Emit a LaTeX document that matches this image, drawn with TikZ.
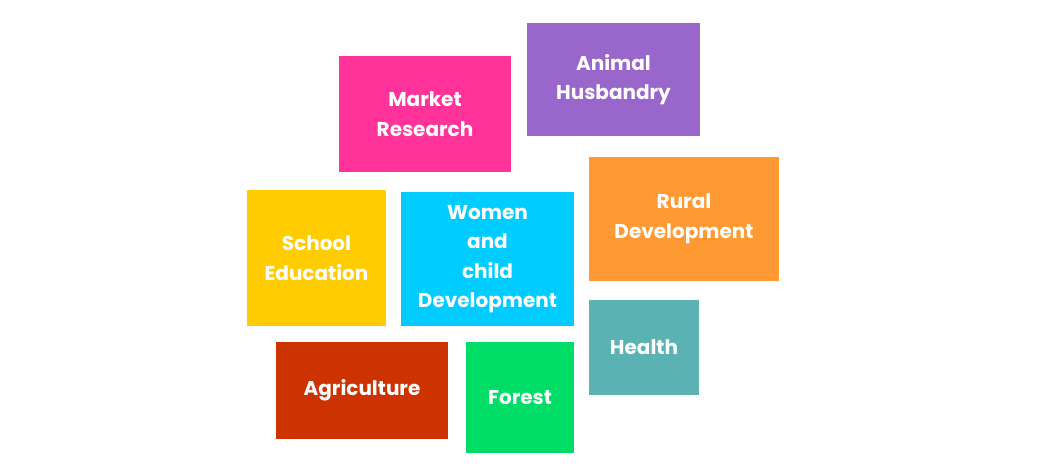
\documentclass[tikz,border=0pt]{standalone}
\usepackage{fontspec}
\setmainfont{Poppins}[BoldFont={Poppins Bold}]
\definecolor{hotpink}{RGB}{255,51,153}
\definecolor{lavender}{RGB}{153,102,204}
\definecolor{tangerine}{RGB}{255,153,51}
\definecolor{sunflower}{RGB}{255,204,0}
\definecolor{skyblue}{RGB}{0,204,255}
\definecolor{tealgray}{RGB}{90,178,178}
\definecolor{brick}{RGB}{204,51,0}
\definecolor{leafgreen}{RGB}{0,221,102}
\usepackage{tikz}
\usetikzlibrary{positioning}

\begin{document}
\begin{tikzpicture}[x=1pt, y=-1pt,
    area/.style={inner sep=2pt, font=\fontsize{20}{29.5}\selectfont\bfseries,
      text=white, align=center},
  ]
    \useasboundingbox (0,0) rectangle (1038,472);
    \node[area, fill=hotpink, minimum width=172pt, minimum height=116pt] (market) at (425, 114) {Market\\Research};
    \node[area, fill=lavender, minimum width=173pt, minimum height=113pt] (animal) at (613.5, 79.5) {Animal\\Husbandry};
    \node[area, fill=tangerine, minimum width=190pt, minimum height=124pt] (rural) at (684, 219) {Rural\\Development};
    \node[area, fill=sunflower, minimum width=139pt, minimum height=136pt] (school) at (316.5, 258) {School\\Education};
    \node[area, fill=skyblue, minimum width=173pt, minimum height=134pt] (women) at (487.5, 259) {Women\\and\\child\\Development};
    \node[area, fill=tealgray, minimum width=110pt, minimum height=95pt] (health) at (644, 347.5) {Health};
    \node[area, fill=brick, minimum width=172pt, minimum height=97pt] (agri) at (362, 390.5) {Agriculture};
    \node[area, fill=leafgreen, minimum width=108pt, minimum height=111pt] (forest) at (520, 397.5) {Forest};
  \end{tikzpicture}
\end{document}
